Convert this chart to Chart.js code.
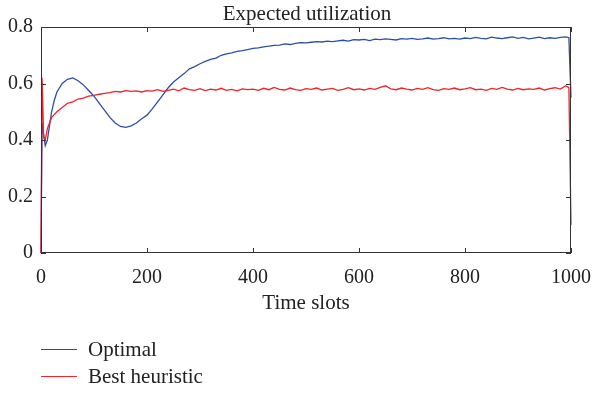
<!DOCTYPE html>
<html>
<head>
<meta charset="utf-8">
<script src="https://cdn.jsdelivr.net/npm/chart.js@4.4.0/dist/chart.umd.min.js"></script>
<style>
  html, body { margin: 0; padding: 0; background: #fff; }
  #wrap { position: relative; width: 592px; height: 396px; }
  #legend { position: absolute; left: 41px; top: 336px; font-family: "Liberation Serif", "DejaVu Serif", serif; font-size: 21px; color: #222; }
  .row { display: flex; align-items: center; height: 27px; }
  .swatch { width: 36px; height: 0; border-top: 1.5px solid; margin-right: 11px; }
</style>
</head>
<body>
<div id="wrap">
  <canvas id="chart" width="592" height="396"></canvas>
  <div id="legend"></div>
</div>
<script>
const slots = [0, 2, 5, 8, 12, 16, 20, 25, 30, 40, 50, 60, 70, 80, 90,
  100, 110, 120, 130, 140, 150, 160, 170, 180, 190,
  200, 210, 220, 230, 240, 250, 260, 270, 280, 290,
  300, 310, 320, 330, 340, 350, 360, 370, 380, 390,
  400, 410, 420, 430, 440, 450, 460, 470, 480, 490,
  500, 510, 520, 530, 540, 550, 560, 570, 580, 590,
  600, 610, 620, 630, 640, 650, 660, 670, 680, 690,
  700, 710, 720, 730, 740, 750, 760, 770, 780, 790,
  800, 810, 820, 830, 840, 850, 860, 870, 880, 890,
  900, 910, 920, 930, 940, 950, 960, 970, 980, 990, 996, 1000];

const optimal = [0, 0.46, 0.42, 0.38, 0.40, 0.45, 0.50, 0.54, 0.57, 0.60, 0.615, 0.62, 0.61, 0.595, 0.575,
  0.555, 0.53, 0.505, 0.48, 0.46, 0.448, 0.445, 0.45, 0.46, 0.475,
  0.488, 0.51, 0.535, 0.56, 0.585, 0.605, 0.62, 0.635, 0.652, 0.66,
  0.67, 0.678, 0.685, 0.69, 0.70, 0.705, 0.708, 0.714, 0.716, 0.72,
  0.724, 0.726, 0.73, 0.732, 0.735, 0.736, 0.74, 0.738, 0.742, 0.745,
  0.744, 0.746, 0.748, 0.747, 0.75, 0.748, 0.751, 0.753, 0.75, 0.755,
  0.754, 0.756, 0.752, 0.757, 0.755, 0.758, 0.756, 0.754, 0.759, 0.757,
  0.76, 0.756, 0.758, 0.761, 0.757, 0.759, 0.762, 0.758, 0.76, 0.757,
  0.761, 0.759, 0.763, 0.76, 0.758, 0.764, 0.761, 0.759, 0.762, 0.765,
  0.76, 0.763, 0.758, 0.761, 0.764, 0.759, 0.762, 0.76, 0.763, 0.765, 0.762, 0.55];

const heuristic = [0, 0.62, 0.41, 0.40, 0.44, 0.46, 0.48, 0.49, 0.50, 0.515, 0.53, 0.535, 0.545, 0.548, 0.555,
  0.558, 0.562, 0.565, 0.568, 0.572, 0.57, 0.575, 0.572, 0.574, 0.57,
  0.575, 0.573, 0.578, 0.572, 0.576, 0.58, 0.574, 0.584, 0.578, 0.576,
  0.582, 0.575, 0.58, 0.577, 0.583, 0.576, 0.579, 0.574, 0.581, 0.578,
  0.58, 0.576, 0.583, 0.578, 0.586, 0.579, 0.577, 0.584, 0.578, 0.576,
  0.582, 0.579, 0.584, 0.577, 0.58, 0.583, 0.576, 0.579, 0.585, 0.578,
  0.581, 0.577, 0.583, 0.579, 0.586, 0.592, 0.581, 0.578, 0.584, 0.58,
  0.577, 0.583, 0.579, 0.585, 0.578, 0.576, 0.582, 0.579, 0.584, 0.578,
  0.581, 0.585, 0.578, 0.58, 0.576, 0.583, 0.579, 0.586, 0.58, 0.577,
  0.583, 0.578, 0.581, 0.579, 0.584, 0.577, 0.582, 0.585, 0.58, 0.592, 0.585, 0.1];

const xTicks = [0, 200, 400, 600, 800, 1000];
const yTicks = [0, 0.2, 0.4, 0.6, 0.8];

const seriesNames = ['Optimal', 'Best heuristic'];
const seriesColors = ['#2c4ea6', '#f0222c'];

const serif = '"Liberation Serif", "DejaVu Serif", serif';
const axisColor = '#333';
const textColor = '#222';

// box around plot + inward ticks, like the original figure
const frame = {
  id: 'frame',
  afterDraw(chart) {
    const { ctx, chartArea: a, scales } = chart;
    ctx.save();
    ctx.strokeStyle = axisColor;
    ctx.lineWidth = 1;
    ctx.strokeRect(a.left + 0.5, a.top + 0.5, a.right - a.left - 1, a.bottom - a.top - 1);
    ctx.beginPath();
    xTicks.forEach(v => {
      const px = Math.round(scales.x.getPixelForValue(v)) + 0.5;
      ctx.moveTo(px, a.bottom); ctx.lineTo(px, a.bottom - 5);
      ctx.moveTo(px, a.top); ctx.lineTo(px, a.top + 5);
    });
    yTicks.forEach(v => {
      const py = Math.round(scales.y.getPixelForValue(v)) + 0.5;
      ctx.moveTo(a.left, py); ctx.lineTo(a.left + 5, py);
      ctx.moveTo(a.right, py); ctx.lineTo(a.right - 5, py);
    });
    ctx.stroke();
    ctx.fillStyle = textColor;
    ctx.font = '21px ' + serif;
    ctx.textAlign = 'center';
    ctx.textBaseline = 'alphabetic';
    ctx.fillText('Expected utilization', (a.left + a.right) / 2 + 1, a.top - 7);
    ctx.restore();
  }
};

const datasets = [optimal, heuristic].map((vals, i) => ({
  label: seriesNames[i],
  data: slots.map((s, j) => ({ x: s, y: vals[j] })),
  borderColor: seriesColors[i],
  borderWidth: 1.3,
  pointRadius: 0,
  tension: 0,
  clip: 2
}));

new Chart(document.getElementById('chart'), {
  type: 'line',
  data: { datasets: datasets.reverse() },
  options: {
    responsive: false,
    animation: false,
    layout: { padding: { left: 0, right: 21, top: 27, bottom: 76 } },
    plugins: { legend: { display: false }, tooltip: { enabled: false } },
    scales: {
      x: {
        type: 'linear', min: 0, max: 1000,
        afterBuildTicks: s => { s.ticks = xTicks.map(v => ({ value: v })); },
        afterFit: s => { s.height = 67; s.paddingLeft = 0; s.paddingRight = 0; },
        grid: { display: false },
        border: { display: false },
        ticks: { color: textColor, font: { family: serif, size: 20 }, padding: 5, maxRotation: 0, callback: v => String(v) },
        title: { display: true, text: 'Time slots', color: textColor, font: { family: serif, size: 21 }, padding: { top: 8 } }
      },
      y: {
        min: 0, max: 0.8,
        afterBuildTicks: s => { s.ticks = yTicks.map(v => ({ value: v })); },
        afterFit: s => { s.width = 41; s.paddingTop = 0; s.paddingBottom = 0; },
        grid: { display: false },
        border: { display: false },
        ticks: { color: textColor, font: { family: serif, size: 20 }, padding: 0, callback: v => String(+v.toFixed(1)) }
      }
    }
  },
  plugins: [frame]
});

document.getElementById('legend').innerHTML = seriesNames.map((n, i) =>
  `<div class="row"><span class="swatch" style="border-color:${seriesColors[i]}"></span>${n}</div>`).join('');
</script>
</body>
</html>
